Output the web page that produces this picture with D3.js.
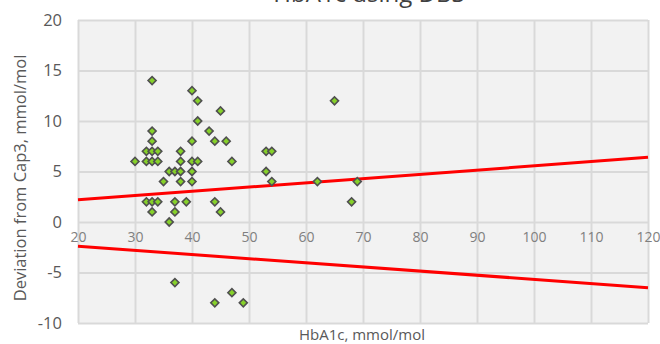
<!DOCTYPE html>
<html>
<head>
<meta charset="utf-8">
<script src="https://cdn.jsdelivr.net/npm/d3@7"></script>
<style>
  body { margin: 0; background: #fff; }
  svg { display: block; font-family: "Open Sans", sans-serif; }
</style>
</head>
<body>
<div id="chart"></div>
<script>
// HbA1c (x) vs deviation from Cap3 (y)
const hba1c = [33, 40, 41, 45, 41, 33, 43, 33, 40, 44, 46,
  32, 33, 34, 38, 53, 54,
  30, 32, 33, 34, 38, 40, 41, 47,
  36, 37, 38, 40, 53,
  35, 38, 40, 54, 62, 69,
  32, 33, 34, 37, 39, 44, 68,
  33, 37, 45,
  36,
  37, 44, 47, 49,
  65];
const deviation = [14, 13, 12, 11, 10, 9, 9, 8, 8, 8, 8,
  7, 7, 7, 7, 7, 7,
  6, 6, 6, 6, 6, 6, 6, 6,
  5, 5, 5, 5, 5,
  4, 4, 4, 4, 4, 4,
  2, 2, 2, 2, 2, 2, 2,
  1, 1, 1,
  0,
  -6, -8, -7, -8,
  12];

// limit lines, given at x = 20 and x = 120
const limitX = [20, 120];
const upperLimit = [2.2, 6.4];
const lowerLimit = [-2.4, -6.5];

const xTicks = [20, 30, 40, 50, 60, 70, 80, 90, 100, 110, 120];
const yTicks = [-10, -5, 0, 5, 10, 15, 20];

const w = 660, h = 344;
const padL = 78, padR = 648, padT = 20, padB = 323;

const svg = d3.select("#chart").append("svg")
  .attr("width", w)
  .attr("height", h);

const x = d3.scaleLinear().domain([20, 120]).range([padL, padR]);
const y = d3.scaleLinear().domain([-10, 20]).range([padB, padT]);

// plot background
svg.append("rect")
  .attr("x", padL).attr("y", padT)
  .attr("width", padR - padL).attr("height", padB - padT)
  .attr("fill", "#f2f2f2");

// gridlines
const gx = svg.append("g")
  .attr("transform", "translate(0," + padB + ")")
  .call(d3.axisBottom(x).tickValues(xTicks).tickSize(-(padB - padT)).tickFormat(""));
const gy = svg.append("g")
  .attr("transform", "translate(" + padL + ",0)")
  .call(d3.axisLeft(y).tickValues(yTicks).tickSize(-(padR - padL)).tickFormat(""));
[gx, gy].forEach(g => {
  g.select(".domain").remove();
  g.selectAll("line").attr("stroke", "#d9d9d9").attr("stroke-width", 2);
});

// y tick labels (plain hyphen for negatives, like the original)
const yAxis = svg.append("g")
  .attr("transform", "translate(" + (padL - 16) + ",0)")
  .call(d3.axisLeft(y).tickValues(yTicks).tickSize(0).tickPadding(0).tickFormat(d => String(d)));
yAxis.select(".domain").remove();
yAxis.selectAll("text")
  .attr("fill", "#595959")
  .style("font-size", "16.5px")
  .style("font-family", "'Open Sans', sans-serif");

// x tick labels sit under the zero line
const xAxis = svg.append("g")
  .attr("transform", "translate(0," + y(0) + ")")
  .call(d3.axisBottom(x).tickValues(xTicks).tickSize(0).tickPadding(10));
xAxis.select(".domain").remove();
xAxis.selectAll("text")
  .attr("fill", "#7f7f7f")
  .style("font-size", "14px")
  .style("font-family", "'Open Sans', sans-serif");

// limit lines
const line = d3.line().x(d => x(d[0])).y(d => y(d[1]));
[upperLimit, lowerLimit].forEach(lim => {
  svg.append("path")
    .datum(limitX.map((v, i) => [v, lim[i]]))
    .attr("d", line)
    .attr("fill", "none")
    .attr("stroke", "#ff0000")
    .attr("stroke-width", 3);
});

// points
const marker = d3.symbol().type(d3.symbolSquare).size(32);
svg.append("g").selectAll("path")
  .data(hba1c.map((v, i) => [v, deviation[i]]))
  .enter().append("path")
  .attr("d", marker())
  .attr("transform", d => "translate(" + x(d[0]) + "," + y(d[1]) + ") rotate(45)")
  .attr("fill", "#86d12a")
  .attr("stroke", "#505050")
  .attr("stroke-width", 1.6);

// title (cut off at the top in the original)
svg.append("text")
  .attr("x", 369).attr("y", 2)
  .attr("text-anchor", "middle")
  .attr("fill", "#404040")
  .style("font-size", "24px")
  .text("HbA1c using DBS");

// axis titles
svg.append("text")
  .attr("transform", "translate(26," + 178 + ") rotate(-90)")
  .attr("text-anchor", "middle")
  .attr("fill", "#595959")
  .style("font-size", "16.5px")
  .text("Deviation from Cap3, mmol/mol");

svg.append("text")
  .attr("x", 362).attr("y", 340)
  .attr("text-anchor", "middle")
  .attr("fill", "#595959")
  .style("font-size", "15px")
  .text("HbA1c, mmol/mol");
</script>
</body>
</html>
